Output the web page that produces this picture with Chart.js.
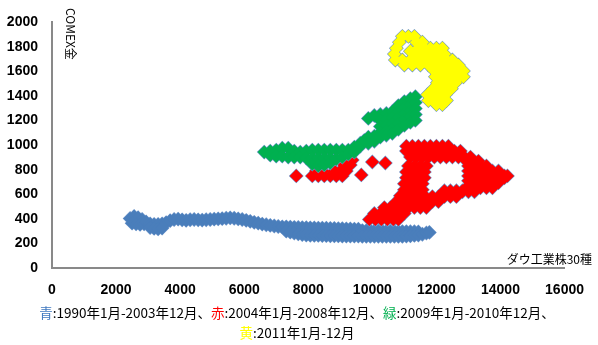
<!DOCTYPE html>
<html lang="ja">
<head>
<meta charset="utf-8">
<script src="https://cdn.jsdelivr.net/npm/chart.js@4.4.0/dist/chart.umd.min.js"></script>
<style>
  html, body { margin: 0; padding: 0; background: #fff; }
  #wrap { width: 598px; height: 345px; }
</style>
</head>
<body>
<div id="wrap"><canvas id="goldChart" width="598" height="345"></canvas></div>
<script>
// ダウ工業株30種 (x) と COMEX金 (y) の組み合わせ
const bluePeriod = [ // 1990年1月-2003年12月
  [2438,403],[2563,420],[2688,410],[2813,395],[2500,365],[2625,360],[2750,355],[2875,360],
  [2938,375],[3063,360],[3188,355],[3313,355],[3438,360],[3563,370],[3063,330],[3188,322],[3313,318],[3438,325],
  [3688,385],[3813,395],[3938,398],[4063,392],[4188,388],[4313,393],[4438,395],[4563,392],
  [4688,390],[4813,393],[4938,395],[5063,398],[5188,400],[5313,402],[5438,405],[5563,408],
  [5688,405],[5813,400],[5938,395],[6063,388],[6188,380],
  [6313,372],[6438,365],[6563,358],[6688,352],[6813,347],[6938,342],[7063,338],[7188,335],
  [7313,335],[7438,333],[7563,331],[7688,330],[7813,329],[7938,328],[8063,327],[8188,326],
  [8313,325],[8438,325],[8563,324],[8688,323],[8813,322],[8938,321],[9063,320],[9188,319],
  [9313,318],[9438,317],[9563,316],
  [7313,300],[7438,292],[7563,285],[7688,278],[7813,272],[7938,268],[8063,266],[8188,265],
  [8313,265],[8438,264],[8563,263],[8688,262],[8813,262],[8938,261],[9063,260],[9188,260],
  [9313,260],[9438,260],[9563,260],
  [9688,305],[9813,304],[9938,303],[10063,302],[10188,301],[10313,300],[10438,300],[10563,299],
  [10688,298],[10813,297],[10938,297],[11063,296],[11188,295],[11313,295],[11438,294],
  [9688,258],[9813,258],[9938,258],[10063,258],[10188,258],[10313,258],[10438,258],[10563,258],
  [10688,258],[10813,258],[10938,258],[11063,260],[11188,262],[11313,265],[11438,268],
  [11563,275],[11688,285],[11781,290]
];
const redPeriod = [ // 2004年1月-2008年12月
  [9906,395],[10094,395],[10281,395],[10469,395],[10656,395],[10813,395],
  [10063,444],[10250,444],[10438,444],[10625,444],[10813,444],[11000,444],
  [10375,492],[10563,492],[10750,492],[10938,492],[11125,492],[11313,492],[11500,492],[11688,492],
  [10750,540],[10938,540],[11125,540],[11313,540],[11500,540],[11688,540],[11875,540],[12063,540],
  [11875,581],[12063,581],[12250,581],[12438,581],[12625,581],
  [12625,621],[12813,621],[13000,621],[13188,621],
  [13188,653],[13375,653],[13563,653],[13750,653],
  [13750,694],[13938,694],[14125,734],
  [10875,589],[11063,589],[11250,589],[11438,589],[11625,589],
  [11000,637],[11188,637],[11375,637],[11563,637],
  [11000,686],[11188,686],[11375,686],[11563,686],
  [11063,734],[11250,734],[11438,734],[11625,734],
  [11063,782],[11250,782],[11438,782],[11625,782],
  [11125,831],[11313,831],[11500,831],[11688,831],
  [11063,992],[11250,992],[11438,992],[11625,992],[11813,992],[12000,992],[12188,992],[12375,992],
  [11063,952],[11250,952],[11438,952],[11625,952],[11813,952],[12000,952],[12188,952],[12375,952],
  [12563,952],[12750,952],
  [11188,903],[11375,903],[11563,903],[11750,903],[11938,903],[12125,903],[12313,903],[12500,903],
  [12688,903],[12875,903],[13063,903],
  [12938,871],[13125,871],[13313,871],
  [13000,831],[13188,831],[13375,831],[13563,831],
  [13000,790],[13188,790],[13375,790],[13563,790],[13750,790],[13938,790],
  [13000,750],[13188,750],[13375,750],[13563,750],[13750,750],[13938,750],[14125,750],[14219,750],
  [13000,710],[13188,710],[13375,710],[13563,710],[13750,710],[13938,710],
  [13000,669],[13188,669],[13375,669],[13563,669],
  [12250,629],[12438,629],[12625,629],[12813,629],
  [7625,750],[8125,750],[8313,750],[8500,750],[8688,750],[8875,750],[9063,750],
  [8250,790],[8438,790],[8813,790],[9000,790],[9188,790],
  [9125,839],[9313,839],[9375,879],
  [9656,758],[10000,863],[10406,855]
];
const greenPeriod = [ // 2009年1月-2010年12月
  [6625,944],[6813,952],[6813,919],[7000,960],[7000,911],[7188,976],[7188,911],[7375,976],[7375,903],
  [7563,952],[7563,903],[7750,944],[7750,903],[7938,952],[7938,895],
  [8125,960],[8125,895],[8125,847],[8313,960],[8313,895],[8313,831],
  [8500,960],[8500,895],[8500,839],[8688,960],[8688,895],[8688,855],
  [8875,960],[8875,887],[9063,960],[9063,903],[9250,960],[9250,927],
  [9438,984],[9438,944],[9625,1016],[9625,992],[9750,1040],
  [9875,1218],[9875,1065],[9875,1016],[10063,1242],[10063,1073],[10063,1032],
  [10250,1250],[10250,1202],[10250,1153],[10250,1105],[10250,1065],
  [10438,1258],[10438,1210],[10438,1161],[10438,1113],[10438,1081],
  [10625,1274],[10625,1226],[10625,1177],[10625,1129],[10625,1097],
  [10813,1323],[10813,1274],[10813,1226],[10813,1177],[10813,1129],
  [11000,1355],[11000,1307],[11000,1258],[11000,1210],[11000,1161],
  [11188,1379],[11188,1331],[11188,1282],[11188,1234],[11188,1186],
  [11344,1395],[11344,1347],[11344,1298],[11344,1250],[11344,1202]
];
const yellowPeriod = [ // 2011年1月-12月
  [10938,1887],[11125,1887],[11313,1887],
  [10844,1839],[11375,1839],[11563,1839],[11188,1766],
  [10750,1790],[11438,1790],[11625,1790],[11813,1790],[12000,1790],[12188,1790],
  [10688,1742],[11313,1742],[11500,1742],[11688,1742],[11875,1742],[12063,1742],[12250,1742],
  [10719,1694],[10938,1694],[11188,1694],[11375,1694],[11563,1694],[11750,1694],[11938,1694],
  [12125,1694],[12313,1694],[12500,1694],
  [11000,1653],[11250,1653],[11500,1653],[11750,1653],[11938,1653],[12125,1653],[12313,1653],
  [12500,1653],[12688,1653],
  [11938,1605],[12125,1605],[12313,1605],[12500,1605],[12688,1605],[12844,1605],
  [11969,1557],[12156,1557],[12344,1557],[12531,1557],[12719,1557],[12844,1557],
  [12031,1508],[12219,1508],[12406,1508],[12594,1508],
  [11906,1460],[12094,1460],[12281,1460],[12469,1460],
  [11719,1411],[11906,1411],[12094,1411],[12281,1411],
  [11750,1363],[11938,1363],[12125,1363],[12313,1363],
  [12000,1331],[12188,1331]
];

const xTicks = [0, 2000, 4000, 6000, 8000, 10000, 12000, 14000, 16000];
const yTicks = [0, 200, 400, 600, 800, 1000, 1200, 1400, 1600, 1800, 2000];

const captionLine1 = [
  ['青', '#3f78c0'], [':1990年1月-2003年12月、', '#000'],
  ['赤', '#ff0000'], [':2004年1月-2008年12月、', '#000'],
  ['緑', '#00b050'], [':2009年1月-2010年12月、', '#000']
];
const captionLine2 = [['黄', '#ffff00'], [':2011年1月-12月', '#000']];

const toPoints = (rows) => rows.map(r => ({ x: r[0], y: r[1] }));

function drawSegments(ctx, segs, cx, y) {
  let total = 0;
  segs.forEach(s => { total += ctx.measureText(s[0]).width; });
  let x = cx - total / 2;
  segs.forEach(s => {
    ctx.fillStyle = s[1];
    ctx.fillText(s[0], x, y);
    x += ctx.measureText(s[0]).width;
  });
}

// 軸タイトルと期間の説明
const captions = {
  id: 'captions',
  afterDraw(chart) {
    const ctx = chart.ctx;
    ctx.save();
    ctx.fillStyle = '#000';
    ctx.font = '12px "Noto Sans CJK JP"';
    ctx.textBaseline = 'middle';

    ctx.save();
    ctx.translate(71, 8);
    ctx.rotate(Math.PI / 2);
    ctx.textAlign = 'left';
    ctx.fillText('COMEX金', 0, 0);
    ctx.restore();

    ctx.textAlign = 'right';
    ctx.fillText('ダウ工業株30種', 592, 259);

    ctx.textAlign = 'left';
    ctx.font = '13.5px "Noto Sans CJK JP"';
    drawSegments(ctx, captionLine1, 297, 313);
    drawSegments(ctx, captionLine2, 297, 333);
    ctx.restore();
  }
};

const series = [
  { data: bluePeriod, color: '#4a7ebb' },
  { data: redPeriod, color: '#ff0000' },
  { data: greenPeriod, color: '#00b050' },
  { data: yellowPeriod, color: '#ffff00' }
];

// 各期間は少し大きい青い菱形の上に本体の菱形を重ねて、外周だけに縁取りを出す。
// Chart.js は order の小さいものを上に描くので、後の期間ほど order を小さくする
const datasets = [];
series.forEach(s => {
  datasets.push({
    data: toPoints(s.data), pointStyle: 'rectRot', pointRadius: 7.4, pointHoverRadius: 7.4,
    backgroundColor: '#6892c8', borderWidth: 0
  });
  datasets.push({
    data: toPoints(s.data), pointStyle: 'rectRot', pointRadius: 6.6, pointHoverRadius: 6.6,
    backgroundColor: s.color, borderWidth: 0
  });
});
datasets.forEach((d, i) => { d.order = datasets.length - i; });

const tickFont = { family: '"Liberation Sans", Arial, sans-serif', size: 14, weight: 'bold' };

new Chart(document.getElementById('goldChart'), {
  type: 'scatter',
  data: { datasets },
  options: {
    responsive: false,
    animation: false,
    events: [],
    layout: { padding: { top: 20, right: 33, bottom: 47, left: 0 } },
    plugins: { legend: { display: false }, tooltip: { enabled: false } },
    scales: {
      x: {
        type: 'linear',
        min: 0, max: 16000,
        afterBuildTicks: (axis) => { axis.ticks = xTicks.map(v => ({ value: v })); },
        afterFit: (axis) => { axis.height = 30; },
        grid: { display: false, drawTicks: false },
        border: { display: true, color: '#898989', width: 2 },
        ticks: { color: '#000', font: tickFont, padding: 14, maxRotation: 0, autoSkip: false,
                 callback: (v) => String(v) }
      },
      y: {
        type: 'linear',
        min: 0, max: 2000,
        afterBuildTicks: (axis) => { axis.ticks = yTicks.map(v => ({ value: v })); },
        afterFit: (axis) => { axis.width = 52; },
        grid: { display: false, drawTicks: false },
        border: { display: true, color: '#898989', width: 2 },
        ticks: { color: '#000', font: tickFont, padding: 14, autoSkip: false,
                 callback: (v) => String(v) }
      }
    }
  },
  plugins: [captions]
});
</script>
</body>
</html>
